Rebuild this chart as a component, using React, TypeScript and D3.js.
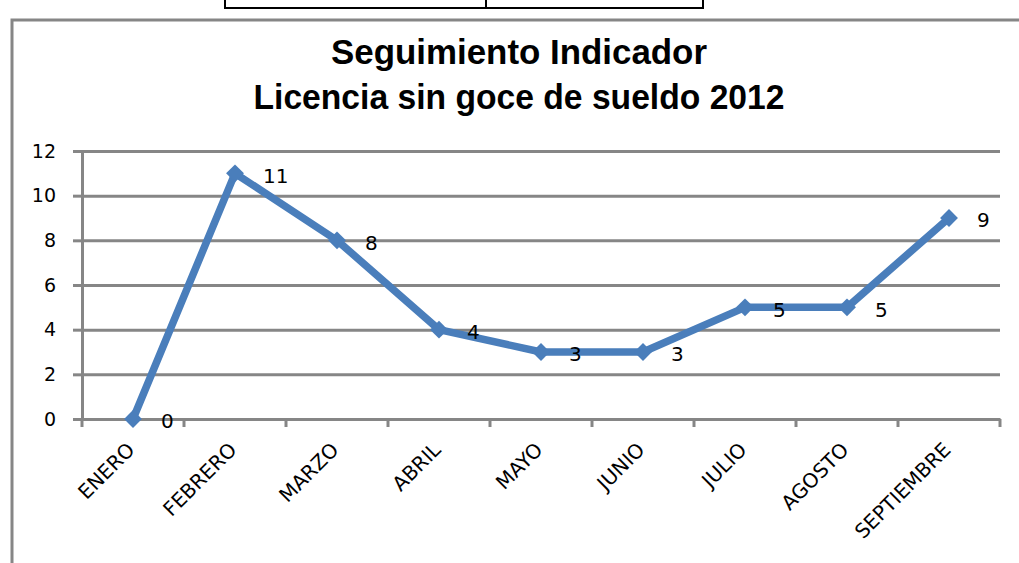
import React, { useEffect, useRef } from 'react';
import * as d3 from 'd3';

const months = ['ENERO', 'FEBRERO', 'MARZO', 'ABRIL', 'MAYO', 'JUNIO', 'JULIO', 'AGOSTO', 'SEPTIEMBRE'];
const licencias = [0, 11, 8, 4, 3, 3, 5, 5, 9];
const yTicks = [0, 2, 4, 6, 8, 10, 12];
const titleLines = ['Seguimiento Indicador', 'Licencia sin goce de sueldo 2012'];
const titleWidths = [376, 531];

export default function App() {
    const svgRef = useRef<SVGSVGElement>(null);

    useEffect(() => {
        const W = 1019, H = 563;
        const svg = d3.select(svgRef.current).attr('width', W).attr('height', H).html('');
        const grey = '#868686';
        const blue = '#4A7EBB';
        const left = 82, right = 1000, top = 151, bottom = 419;

        svg.append('rect').attr('width', W).attr('height', H).attr('fill', '#fff');

        // box peeking in at the top
        svg.append('rect').attr('x', 225).attr('y', -10).attr('width', 478).attr('height', 18)
            .attr('fill', 'none').attr('stroke', '#000').attr('stroke-width', 2);
        svg.append('line').attr('x1', 486).attr('x2', 486).attr('y1', -10).attr('y2', 8)
            .attr('stroke', '#000').attr('stroke-width', 2);

        // chart frame
        svg.append('rect').attr('x', 12).attr('y', 20).attr('width', W + 20).attr('height', H + 20)
            .attr('fill', 'none').attr('stroke', grey).attr('stroke-width', 3);

        svg.append('g').selectAll('text').data(titleLines).enter().append('text')
            .attr('text-anchor', 'middle')
            .attr('x', 519).attr('y', (d, i) => 64 + i * 45)
            .attr('textLength', (d, i) => titleWidths[i]).attr('lengthAdjust', 'spacingAndGlyphs')
            .style('font-family', '"Liberation Sans", Arial, sans-serif')
            .style('font-weight', 'bold').style('font-size', '35px').attr('fill', '#000')
            .text(d => d);

        const x = d3.scaleBand().domain(months).range([left, right]);
        const y = d3.scaleLinear().domain([0, 12]).range([bottom, top]);

        // grid
        const grid = svg.append('g').attr('transform', `translate(${left},0)`)
            .call(d3.axisLeft(y).tickValues(yTicks).tickSize(-(right - left)).tickFormat(() => ''));
        grid.select('.domain').remove();
        grid.selectAll('line').attr('stroke', grey).attr('stroke-width', 3);

        const yAxis = svg.append('g').attr('transform', `translate(${left},0)`)
            .call(d3.axisLeft(y).tickValues(yTicks).tickSize(9).tickPadding(17));
        yAxis.select('.domain').attr('stroke', grey).attr('stroke-width', 3);
        yAxis.selectAll('.tick line').attr('stroke', grey).attr('stroke-width', 3);
        yAxis.selectAll('text').attr('fill', '#000')
            .style('font-family', '"DejaVu Sans", sans-serif').style('font-size', '19px');

        const xAxis = svg.append('g').attr('transform', `translate(0,${bottom})`)
            .call(d3.axisBottom(x).tickSize(0).tickFormat(() => ''));
        xAxis.select('.domain').attr('stroke', grey).attr('stroke-width', 3);
        const edges = months.map(m => x(m) as number).concat([right]);
        xAxis.selectAll('.edge').data(edges).enter().append('line')
            .attr('x1', d => d).attr('x2', d => d).attr('y1', 0).attr('y2', 8)
            .attr('stroke', grey).attr('stroke-width', 3);

        svg.append('g').selectAll('text').data(months).enter().append('text')
            .attr('text-anchor', 'end')
            .attr('transform', d => `translate(${(x(d) as number) + x.bandwidth() / 2 + 3},${bottom + 32}) rotate(-45)`)
            .style('font-family', '"DejaVu Sans", sans-serif').style('font-size', '20px')
            .attr('fill', '#000').text(d => d);

        const cx = (i: number) => (x(months[i]) as number) + x.bandwidth() / 2;
        const line = d3.line<number>().x((d, i) => cx(i)).y(d => y(d));
        svg.append('path').datum(licencias).attr('d', line).attr('fill', 'none')
            .attr('stroke', blue).attr('stroke-width', 7.5).attr('stroke-linejoin', 'round');

        svg.append('g').selectAll('path').data(licencias).enter().append('path')
            .attr('d', d3.symbol().type(d3.symbolSquare).size(160)())
            .attr('transform', (d, i) => `translate(${cx(i)},${y(d)}) rotate(45)`)
            .attr('fill', blue);

        svg.append('g').selectAll('text').data(licencias).enter().append('text')
            .attr('x', (d, i) => cx(i) + 28).attr('y', d => y(d) + 2).attr('dy', '0.36em')
            .style('font-family', '"DejaVu Sans", sans-serif').style('font-size', '20px')
            .attr('fill', '#000').text(d => d);
    }, []);

    return <svg ref={svgRef} style={{ position: 'absolute', left: 0, top: 0 }} />;
}
